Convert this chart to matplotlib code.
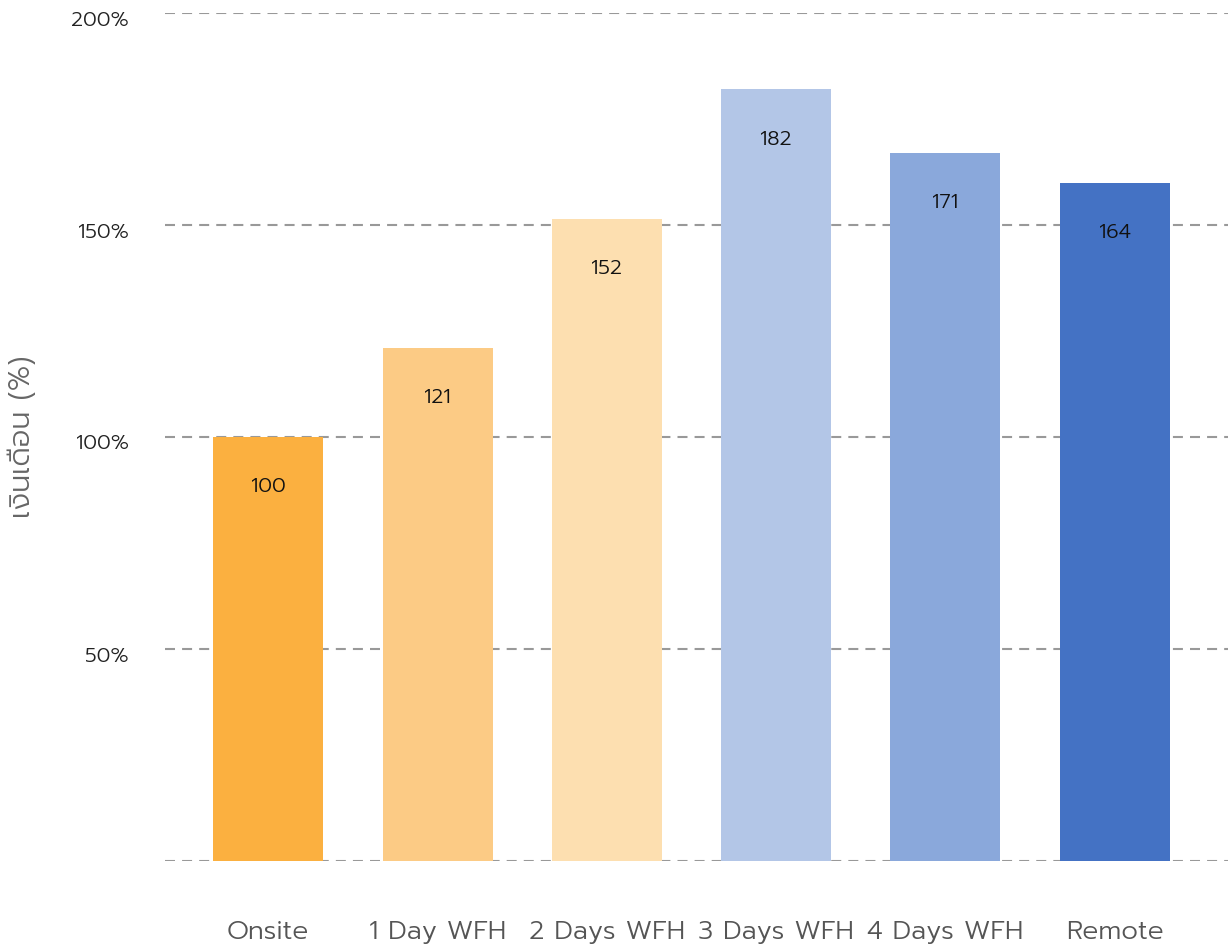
import matplotlib
matplotlib.use("Agg")
import matplotlib.pyplot as plt
from matplotlib.transforms import ScaledTranslation

categories = ["Onsite", "1 Day WFH", "2 Days WFH", "3 Days WFH", "4 Days WFH", "Remote"]
heights = [100, 121, 151.5, 182, 167, 160]
labels = [100, 121, 152, 182, 171, 164]
colors = ["#FBB040", "#FCCB85", "#FDDFB0", "#B3C6E7", "#8AA8DB", "#4472C4"]
yticks = [0, 50, 100, 150, 200]
ytick_labels = ["", "50%", "100%", "150%", "200%"]

plt.rcParams["font.family"] = ["Prompt", "DejaVu Sans"]
plt.rcParams["font.weight"] = 300

fig = plt.figure(figsize=(12.28, 9.48), dpi=100)
ax = fig.add_axes([165 / 1228, 1 - 861 / 948, 1 - 165 / 1228, (861 - 13) / 948])

x = range(len(categories))
bars = ax.bar(x, heights, width=0.65, color=colors, zorder=2)
for b, lab in zip(bars, labels):
    ax.annotate(str(lab), (b.get_x() + b.get_width() / 2, b.get_height()),
                xytext=(0, -36), textcoords="offset points",
                ha="center", va="center", fontsize=15, color="#111111")

ax.set_xlim(-0.61, 5.67)
ax.set_ylim(0, 200)
ax.set_yticks(yticks)
ax.set_yticklabels(ytick_labels)
ax.set_xticks(list(x))
ax.set_xticklabels(categories)
ax.tick_params(axis="y", length=0, pad=26, labelsize=15, labelcolor="#222222")
ax.tick_params(axis="x", length=0, pad=42, labelsize=19, labelcolor="#555555")
for lbl in ax.get_yticklabels():
    lbl.set_transform(lbl.get_transform() + ScaledTranslation(0, -0.05, fig.dpi_scale_trans))
ax.yaxis.grid(True, linestyle=(0, (4.8, 3.4)), color="#999999", linewidth=1.5, zorder=0)
ax.set_axisbelow(True)
for s in ax.spines.values():
    s.set_visible(False)

fig.text(22 / 1228, 1 - 437 / 948, "เงินเดือน (%)", rotation=90, ha="center", va="center",
         fontsize=21, color="#666666")

fig.savefig("out.png")
